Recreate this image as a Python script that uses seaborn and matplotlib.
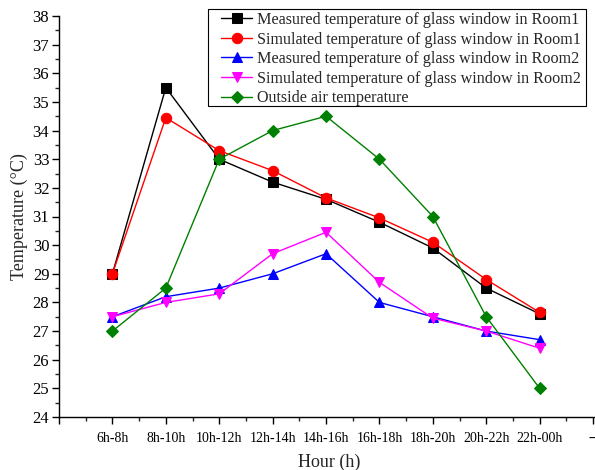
import matplotlib
matplotlib.use("Agg")
import matplotlib.pyplot as plt
import seaborn as sns
import numpy as np
import pandas as pd
from matplotlib.ticker import MultipleLocator
from matplotlib.patches import Rectangle

hours = ["6h-8h", "8h-10h", "10h-12h", "12h-14h", "14h-16h", "16h-18h", "18h-20h", "20h-22h", "22h-00h"]
measured_room1 = [29.0, 35.5, 33.0, 32.2, 31.6, 30.8, 29.9, 28.5, 27.6]
simulated_room1 = [29.0, 34.45, 33.3, 32.6, 31.65, 30.95, 30.1, 28.8, 27.65]
measured_room2 = [27.5, 28.2, 28.5, 29.0, 29.7, 28.0, 27.5, 27.0, 26.7]
simulated_room2 = [27.5, 28.0, 28.3, 29.7, 30.45, 28.7, 27.45, 27.0, 26.4]
outside_air = [27.0, 28.5, 33.0, 34.0, 34.5, 33.0, 31.0, 27.5, 25.0]

series = [
    ("Measured temperature of glass window in Room1", measured_room1, "black", "s", 6.5),
    ("Simulated temperature of glass window in Room1", simulated_room1, "red", "o", 7.5),
    ("Measured temperature of glass window in Room2", measured_room2, "blue", "^", 7.5),
    ("Simulated temperature of glass window in Room2", simulated_room2, "magenta", "v", 7.5),
    ("Outside air temperature", outside_air, "green", "D", 6.5),
]

sns.set_style("ticks")
plt.rcParams['font.family'] = ['Liberation Serif', 'DejaVu Serif']

fig = plt.figure(figsize=(5.95, 4.7), dpi=100)
ax = fig.add_axes([59/595, 1 - 417/470, (600 - 59)/595, (417 - 16)/470])

pos = np.arange(1, len(hours) + 1)
for name, vals, color, marker, ms in series:
    df = pd.DataFrame({"x": pos, "y": vals})
    sns.lineplot(data=df, x="x", y="y", ax=ax, color=color, marker=marker,
                 markersize=ms, markeredgecolor=color, linewidth=1.0, label=name)

ax.set_xlim(0, 10.13)
ax.set_ylim(24, 38)
ax.set_xticks(list(range(0, 11)))
ax.set_xticklabels([""] + hours + ["--"])
ax.xaxis.set_minor_locator(MultipleLocator(0.5))
ax.yaxis.set_major_locator(MultipleLocator(1))
ax.yaxis.set_minor_locator(MultipleLocator(0.5))
ax.tick_params(axis="both", which="major", direction="out", length=5, width=1, colors="black")
ax.tick_params(axis="both", which="minor", direction="out", length=3, width=1)
ax.tick_params(axis="y", labelsize=12, pad=2)
ax.tick_params(axis="x", labelsize=10, pad=6)
for s in ["top", "right"]:
    ax.spines[s].set_visible(False)
for s in ["left", "bottom"]:
    ax.spines[s].set_linewidth(1.0)
    ax.spines[s].set_color("black")

ax.set_xlabel("Hour (h)", fontsize=13, labelpad=6)
ax.set_ylabel("Temperature (°C)", fontsize=13, labelpad=3)

leg = ax.legend(loc="upper left", fontsize=11.6, frameon=False, handlelength=1.93,
                handletextpad=0.31, borderpad=0.0, labelspacing=0.22, borderaxespad=0)
leg.set_bbox_to_anchor((221/595, 1 - 12/470), transform=fig.transFigure)

frame = Rectangle((208/595, 1 - 106/470), (586 - 208)/595, (106 - 9)/470,
                  transform=fig.transFigure, fill=False, edgecolor="black", linewidth=0.8)
fig.add_artist(frame)

fig.savefig("out.png", dpi=100)
